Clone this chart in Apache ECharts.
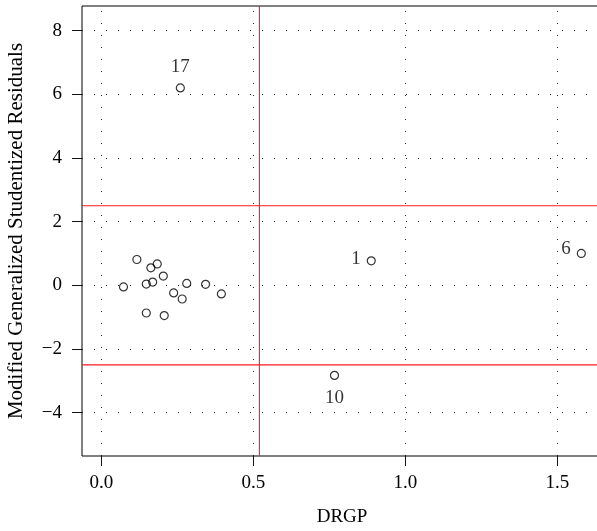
<!DOCTYPE html>
<html>
<head>
<meta charset="utf-8">
<script src="https://cdn.jsdelivr.net/npm/echarts@6/dist/echarts.min.js"></script>
<style>
  html, body { margin: 0; padding: 0; background: #fff; }
  #chart { width: 597px; height: 531px; }
</style>
</head>
<body>
<div id="chart"></div>
<script>
// Case diagnostics: DRGP vs modified generalized studentized residuals
const drgp = [0.888, 1.579, 0.767, 0.260,
  0.117, 0.163, 0.184, 0.204, 0.073, 0.148, 0.169, 0.281, 0.343, 0.238, 0.266, 0.395, 0.148, 0.207];
const mgsr = [0.77, 1.00, -2.83, 6.20,
  0.81, 0.55, 0.67, 0.29, -0.05, 0.04, 0.10, 0.06, 0.03, -0.24, -0.43, -0.27, -0.87, -0.95];
const caseLabels = ['1', '6', '10', '17', '', '', '', '', '', '', '', '', '', '', '', '', '', ''];

// Cut-off values
const drgpCutoff = [0.52];
const mgsrCutoffs = [-2.5, 2.5];

// Axis ranges and tick positions
const xRange = [-0.0635, 1.647];
const yRange = [-5.363, 8.775];
const xTicks = [0, 0.5, 1.0, 1.5];
const yTicks = [-4, -2, 0, 2, 4, 6, 8];

const FONT = '"Liberation Serif", "DejaVu Serif", serif';

// Label placement for the annotated cases
const labelPlacement = {
  '1':  { position: 'left', distance: 6, offset: [0, -2] },
  '6':  { position: 'left', distance: 6, offset: [0, -4] },
  '10': { position: 'bottom', distance: 9 },
  '17': { position: 'top', distance: 7 }
};

const points = drgp.map((x, i) => {
  const lab = caseLabels[i];
  const item = { value: [x, mgsr[i]], name: lab };
  if (lab) {
    item.label = Object.assign({
      show: true, formatter: lab, color: '#000', fontSize: 19, fontFamily: FONT
    }, labelPlacement[lab]);
  }
  return item;
});

const dotted = { color: '#222', width: 1, type: [1, 11] };
const RED = '#ff1a1a';

// Cut-off lines as two-point line series spanning the axis range
const cutoffSeries = drgpCutoff.map((v, i) => ({
  name: 'drgp-cut-' + i, type: 'line', silent: true, z: 3,
  symbol: 'none', lineStyle: { color: RED, width: 1.1 }, itemStyle: { color: RED },
  data: [[v, yRange[0]], [v, yRange[1]]]
})).concat(mgsrCutoffs.map((v, i) => ({
  name: 'mgsr-cut-' + i, type: 'line', silent: true, z: 3,
  symbol: 'none', lineStyle: { color: RED, width: 1.1 }, itemStyle: { color: RED },
  data: [[xRange[0], v], [xRange[1], v]]
})));

const chart = echarts.init(document.getElementById('chart'), null, { renderer: 'canvas' });
chart.setOption({
  animation: false,
  backgroundColor: '#fff',
  grid: {
    left: 82, top: 6, width: 520, height: 450,
    outerBoundsMode: 'none', containLabel: false,
    show: true, borderColor: '#000', borderWidth: 1, backgroundColor: 'transparent'
  },
  xAxis: {
    type: 'value', min: xRange[0], max: xRange[1],
    name: 'DRGP', nameLocation: 'middle', nameGap: 52,
    nameTextStyle: { fontFamily: FONT, fontSize: 19, color: '#000' },
    axisLine: { show: false, onZero: false },
    splitLine: { show: false },
    axisTick: { show: true, length: 10, customValues: xTicks, lineStyle: { color: '#111', width: 1 } },
    axisLabel: {
      customValues: xTicks, margin: 18, color: '#000', fontFamily: FONT, fontSize: 19,
      formatter: v => v.toFixed(1)
    }
  },
  yAxis: {
    type: 'value', min: yRange[0], max: yRange[1],
    name: 'Modified Generalized Studentized Residuals', nameLocation: 'middle', nameGap: 55,
    nameTextStyle: { fontFamily: FONT, fontSize: 21, color: '#000' },
    axisLine: { show: false, onZero: false },
    splitLine: { show: false },
    axisTick: { show: true, length: 10, customValues: yTicks, lineStyle: { color: '#111', width: 1 } },
    axisLabel: {
      customValues: yTicks, margin: 20, color: '#000', fontFamily: FONT, fontSize: 19,
      formatter: v => String(v).replace('-', '\u2212')
    }
  },
  series: [
    {
      // dotted reference grid
      name: 'grid', type: 'scatter', data: [], silent: true, z: 1,
      markLine: {
        silent: true, symbol: 'none', label: { show: false },
        lineStyle: dotted,
        data: xTicks.map(v => ({ xAxis: v })).concat(yTicks.map(v => ({ yAxis: v })))
      }
    }
  ].concat(cutoffSeries, [
    {
      name: 'cases', type: 'scatter', z: 5,
      symbol: 'circle', symbolSize: 8,
      itemStyle: { color: 'rgba(0,0,0,0)', borderColor: '#000', borderWidth: 1.2 },
      data: points
    }
  ])
});
</script>
</body>
</html>
